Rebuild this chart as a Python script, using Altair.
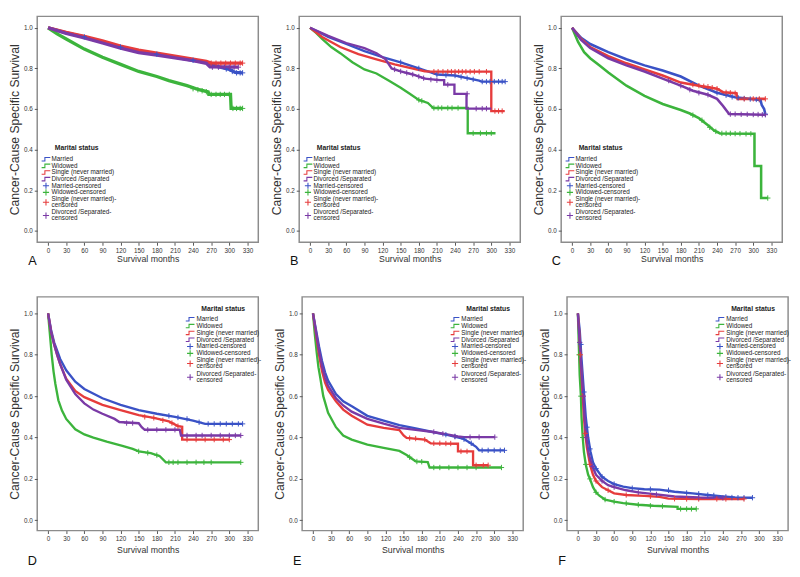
import altair as alt
import pandas as pd

STATUS = ["Married", "Widowed", "Single (never married)", "Divorced /Separated"]
COLORS = ["#3a52c6", "#3cb43c", "#e63c3c", "#7a3aa6"]
LEGEND_LABELS = ["Married", "Widowed", "Single (never married)", "Divorced /Separated",
                 "Married-censored", "Widowed-censored",
                 "Single (never married)-\ncensored", "Divorced /Separated-\ncensored"]
X_TICKS = [0, 30, 60, 90, 120, 150, 180, 210, 240, 270, 300, 330]
Y_TICKS = [0.0, 0.2, 0.4, 0.6, 0.8, 1.0]
X_TITLE = "Survival months"
Y_TITLE = "Cancer-Cause Specific Survival"

# ---------------- Panel A ----------------
A_CURVES = {
    "Married": [(0, 1.0), (30, 0.975), (60, 0.955), (90, 0.93), (120, 0.905), (150, 0.885), (180, 0.87),
                (210, 0.855), (240, 0.84), (262, 0.83), (280, 0.81), (300, 0.795), (310, 0.78), (322, 0.778)],
    "Widowed": [(0, 1.0), (15, 0.97), (30, 0.945), (60, 0.895), (90, 0.855), (120, 0.82), (150, 0.785),
                (180, 0.76), (200, 0.74), (230, 0.715), (250, 0.695), (265, 0.685), (266, 0.672),
                (302, 0.672), (303, 0.603), (322, 0.603)],
    "Single (never married)": [(0, 1.0), (30, 0.977), (60, 0.958), (90, 0.935), (120, 0.91), (150, 0.89),
                               (180, 0.875), (210, 0.86), (240, 0.845), (262, 0.835), (270, 0.826), (322, 0.826)],
    "Divorced /Separated": [(0, 1.0), (30, 0.972), (60, 0.95), (90, 0.925), (120, 0.9), (150, 0.878),
                            (180, 0.866), (210, 0.852), (240, 0.838), (262, 0.825), (268, 0.808), (315, 0.806)],
}
A_CENSOR = {
    "Married": [(60, 0.955), (120, 0.905), (180, 0.87), (240, 0.84), (295, 0.797), (305, 0.785),
                (312, 0.778), (318, 0.778), (322, 0.778)],
    "Widowed": [(240, 0.7), (248, 0.695), (255, 0.69), (262, 0.685), (270, 0.672), (278, 0.672),
                (285, 0.672), (292, 0.672), (300, 0.672), (306, 0.603), (312, 0.603), (318, 0.603), (322, 0.603)],
    "Single (never married)": [(270, 0.826), (278, 0.826), (286, 0.826), (294, 0.826), (302, 0.826),
                               (310, 0.826), (318, 0.826), (322, 0.826)],
    "Divorced /Separated": [(272, 0.806), (282, 0.806), (292, 0.806), (300, 0.806), (308, 0.806), (315, 0.806)],
}

# ---------------- Panel B ----------------
B_CURVES = {
    "Married": [(0, 1.0), (30, 0.955), (60, 0.92), (90, 0.885), (120, 0.855), (150, 0.83), (180, 0.8),
                (200, 0.78), (210, 0.77), (240, 0.765), (260, 0.752), (280, 0.74), (284, 0.735), (323, 0.735)],
    "Widowed": [(0, 1.0), (10, 0.975), (20, 0.945), (35, 0.905), (50, 0.875), (70, 0.83), (90, 0.795),
                (110, 0.775), (130, 0.74), (150, 0.705), (165, 0.675), (180, 0.645), (195, 0.63), (204, 0.605),
                (261, 0.605), (261, 0.481), (307, 0.481)],
    "Single (never married)": [(0, 1.0), (20, 0.955), (50, 0.905), (80, 0.87), (110, 0.845), (140, 0.82),
                               (165, 0.803), (190, 0.786), (200, 0.784), (300, 0.784), (300, 0.59), (322, 0.59)],
    "Divorced /Separated": [(0, 1.0), (30, 0.96), (60, 0.925), (90, 0.9), (110, 0.875), (125, 0.845),
                            (135, 0.8), (150, 0.785), (170, 0.77), (190, 0.75), (215, 0.742), (222, 0.742),
                            (222, 0.72), (239, 0.72), (239, 0.675), (259, 0.675), (259, 0.602), (300, 0.602)],
}
B_CENSOR = {
    "Married": [(150, 0.83), (180, 0.8), (210, 0.77), (225, 0.767), (240, 0.765), (250, 0.758), (260, 0.752),
                (270, 0.746), (285, 0.735), (292, 0.735), (298, 0.735), (305, 0.735), (312, 0.735),
                (318, 0.735), (323, 0.735)],
    "Widowed": [(180, 0.645), (185, 0.64), (205, 0.605), (212, 0.605), (218, 0.605), (228, 0.605),
                (235, 0.605), (245, 0.605), (270, 0.481), (282, 0.481), (292, 0.481), (300, 0.481)],
    "Single (never married)": [(205, 0.784), (212, 0.784), (220, 0.784), (228, 0.784), (234, 0.784),
                               (240, 0.784), (246, 0.784), (252, 0.784), (258, 0.784), (265, 0.784),
                               (272, 0.784), (280, 0.784), (292, 0.784), (306, 0.59), (312, 0.59), (318, 0.59)],
    "Divorced /Separated": [(140, 0.795), (150, 0.785), (160, 0.778), (170, 0.77), (180, 0.76), (188, 0.752),
                            (200, 0.745), (210, 0.742), (228, 0.72), (260, 0.675), (275, 0.602),
                            (285, 0.602), (292, 0.602)],
}

# ---------------- Panel C ----------------
C_CURVES = {
    "Married": [(0, 1.0), (15, 0.95), (30, 0.92), (60, 0.88), (90, 0.845), (120, 0.815), (150, 0.79),
                (180, 0.76), (210, 0.715), (240, 0.68), (270, 0.658), (300, 0.648), (312, 0.645),
                (314, 0.62), (318, 0.6), (320, 0.575)],
    "Widowed": [(0, 1.0), (10, 0.93), (20, 0.88), (30, 0.85), (45, 0.815), (60, 0.78), (90, 0.715),
                (120, 0.665), (150, 0.625), (180, 0.595), (195, 0.578), (210, 0.555), (225, 0.52),
                (235, 0.495), (245, 0.48), (302, 0.478), (302, 0.32), (313, 0.32), (313, 0.162), (324, 0.162)],
    "Single (never married)": [(0, 1.0), (15, 0.945), (30, 0.905), (60, 0.86), (90, 0.825), (120, 0.795),
                               (150, 0.765), (180, 0.73), (210, 0.715), (240, 0.7), (250, 0.683),
                               (272, 0.678), (274, 0.65), (320, 0.65)],
    "Divorced /Separated": [(0, 1.0), (15, 0.94), (30, 0.9), (60, 0.85), (90, 0.815), (120, 0.785),
                            (150, 0.75), (180, 0.715), (200, 0.69), (225, 0.67), (240, 0.65), (250, 0.615),
                            (260, 0.575), (320, 0.572)],
}
C_CENSOR = {
    "Married": [(240, 0.68), (255, 0.668), (265, 0.66), (275, 0.655), (285, 0.652), (295, 0.649),
                (305, 0.647), (310, 0.646), (320, 0.575)],
    "Widowed": [(200, 0.57), (215, 0.545), (228, 0.51), (238, 0.49), (248, 0.48), (255, 0.48), (262, 0.48),
                (270, 0.479), (278, 0.479), (288, 0.478), (296, 0.478), (324, 0.162)],
    "Single (never married)": [(200, 0.72), (210, 0.715), (218, 0.712), (225, 0.71), (232, 0.705),
                               (240, 0.7), (255, 0.682), (262, 0.68), (270, 0.678), (285, 0.65),
                               (300, 0.65), (310, 0.65), (320, 0.65)],
    "Divorced /Separated": [(160, 0.74), (180, 0.715), (195, 0.695), (210, 0.68), (225, 0.67), (262, 0.575),
                            (270, 0.575), (280, 0.574), (290, 0.574), (300, 0.573), (308, 0.573),
                            (315, 0.572), (320, 0.572)],
}

# ---------------- Panel D ----------------
D_CURVES = {
    "Married": [(0, 1.0), (5, 0.92), (10, 0.86), (15, 0.82), (20, 0.78), (30, 0.725), (45, 0.67),
                (60, 0.635), (90, 0.59), (120, 0.558), (150, 0.532), (180, 0.515), (210, 0.5),
                (240, 0.482), (260, 0.466), (322, 0.466)],
    "Widowed": [(0, 1.0), (3, 0.9), (6, 0.8), (9, 0.72), (12, 0.66), (17, 0.58), (23, 0.53), (30, 0.49),
                (45, 0.44), (60, 0.415), (75, 0.4), (97, 0.38), (123, 0.36), (140, 0.345), (150, 0.333),
                (170, 0.325), (185, 0.31), (195, 0.28), (319, 0.28)],
    "Single (never married)": [(0, 1.0), (5, 0.91), (10, 0.85), (15, 0.8), (20, 0.755), (30, 0.685),
                               (45, 0.625), (60, 0.595), (90, 0.558), (120, 0.533), (150, 0.508),
                               (175, 0.495), (200, 0.478), (215, 0.455), (222, 0.452), (222, 0.39), (300, 0.39)],
    "Divorced /Separated": [(0, 1.0), (5, 0.91), (10, 0.85), (15, 0.8), (20, 0.755), (30, 0.68), (45, 0.61),
                            (60, 0.565), (75, 0.535), (90, 0.515), (110, 0.49), (118, 0.475), (150, 0.469),
                            (155, 0.45), (160, 0.4375), (218, 0.4375), (220, 0.41), (319, 0.41)],
}
D_CENSOR = {
    "Married": [(200, 0.505), (215, 0.497), (230, 0.49), (250, 0.474), (265, 0.466), (275, 0.466),
                (285, 0.466), (295, 0.466), (305, 0.466), (315, 0.466), (322, 0.466)],
    "Widowed": [(150, 0.333), (165, 0.326), (180, 0.315), (200, 0.28), (207, 0.28), (215, 0.28), (230, 0.28),
                (245, 0.28), (258, 0.28), (270, 0.28), (319, 0.28)],
    "Single (never married)": [(160, 0.5), (175, 0.495), (190, 0.483), (205, 0.47), (215, 0.455), (230, 0.39),
                               (245, 0.39), (260, 0.39), (275, 0.39), (290, 0.39), (300, 0.39)],
    "Divorced /Separated": [(130, 0.47), (140, 0.47), (165, 0.4375), (180, 0.4375), (195, 0.4375),
                            (210, 0.4375), (230, 0.41), (245, 0.41), (255, 0.41), (270, 0.41), (285, 0.41),
                            (300, 0.41), (310, 0.41), (319, 0.41)],
}

# ---------------- Panel E ----------------
E_CURVES = {
    "Married": [(0, 1.0), (5, 0.92), (10, 0.84), (15, 0.77), (20, 0.715), (25, 0.675), (38, 0.61),
                (50, 0.575), (65, 0.55), (90, 0.505), (117, 0.482), (143, 0.46), (170, 0.444), (196, 0.428),
                (222, 0.413), (248, 0.395), (260, 0.375), (270, 0.355), (275, 0.338), (317, 0.338)],
    "Widowed": [(0, 1.0), (3, 0.9), (6, 0.815), (9, 0.74), (12, 0.69), (17, 0.6), (25, 0.52), (38, 0.45),
                (50, 0.41), (64, 0.39), (90, 0.366), (117, 0.35), (143, 0.335), (155, 0.315), (165, 0.295),
                (170, 0.285), (190, 0.281), (193, 0.255), (312, 0.255)],
    "Single (never married)": [(0, 1.0), (5, 0.9), (10, 0.8), (15, 0.72), (20, 0.665), (25, 0.63),
                               (38, 0.575), (50, 0.535), (64, 0.505), (90, 0.462), (117, 0.447), (143, 0.436),
                               (150, 0.41), (155, 0.398), (185, 0.39), (195, 0.372), (240, 0.37), (240, 0.333),
                               (265, 0.333), (265, 0.266), (290, 0.266)],
    "Divorced /Separated": [(0, 1.0), (5, 0.91), (10, 0.82), (15, 0.745), (20, 0.69), (25, 0.65), (38, 0.59),
                            (50, 0.555), (64, 0.525), (90, 0.49), (117, 0.467), (143, 0.447), (170, 0.437),
                            (196, 0.428), (222, 0.415), (240, 0.405), (250, 0.402), (301, 0.402)],
}
E_CENSOR = {
    "Married": [(220, 0.414), (235, 0.405), (250, 0.392), (262, 0.372), (280, 0.338), (290, 0.338),
                (300, 0.338), (310, 0.338), (317, 0.338)],
    "Widowed": [(160, 0.305), (172, 0.284), (180, 0.283), (200, 0.255), (210, 0.255), (225, 0.255),
                (240, 0.255), (255, 0.255), (270, 0.255), (312, 0.255)],
    "Single (never married)": [(160, 0.397), (170, 0.395), (185, 0.39), (200, 0.372), (210, 0.372),
                               (220, 0.371), (228, 0.371), (245, 0.333), (255, 0.333), (270, 0.266),
                               (282, 0.266), (290, 0.266)],
    "Divorced /Separated": [(200, 0.427), (215, 0.418), (235, 0.405), (260, 0.402), (275, 0.402), (301, 0.402)],
}

# ---------------- Panel F ----------------
F_CURVES = {
    "Married": [(0, 1.0), (3, 0.92), (6, 0.78), (10, 0.62), (13, 0.5), (17, 0.4), (21, 0.33), (25, 0.28),
                (30, 0.25), (40, 0.21), (50, 0.19), (60, 0.175), (75, 0.163), (90, 0.155), (110, 0.15),
                (135, 0.148), (160, 0.138), (190, 0.13), (215, 0.122), (240, 0.115), (260, 0.11), (289, 0.109)],
    "Widowed": [(0, 1.0), (1, 0.9), (2, 0.8), (3, 0.7), (5, 0.6), (6, 0.5), (8, 0.4), (10, 0.33), (13, 0.27),
                (17, 0.22), (20, 0.2), (25, 0.16), (30, 0.135), (35, 0.12), (45, 0.1), (60, 0.09),
                (75, 0.083), (100, 0.075), (125, 0.07), (165, 0.065), (165, 0.055), (196, 0.055)],
    "Single (never married)": [(0, 1.0), (2, 0.92), (4, 0.8), (6, 0.7), (8, 0.6), (10, 0.5), (12, 0.42),
                               (15, 0.35), (20, 0.27), (25, 0.22), (30, 0.19), (40, 0.16), (50, 0.145),
                               (60, 0.13), (80, 0.122), (110, 0.118), (135, 0.113), (150, 0.105),
                               (200, 0.103), (275, 0.103)],
    "Divorced /Separated": [(0, 1.0), (2, 0.9), (4, 0.82), (6, 0.72), (9, 0.6), (11, 0.5), (14, 0.4),
                            (18, 0.32), (24, 0.26), (30, 0.22), (40, 0.19), (50, 0.17), (60, 0.16),
                            (80, 0.145), (100, 0.135), (130, 0.125), (160, 0.115), (200, 0.11), (240, 0.108)],
}
F_CENSOR = {
    "Married": [(5, 0.85), (10, 0.62), (15, 0.45), (20, 0.345), (30, 0.25), (40, 0.21), (60, 0.175),
                (90, 0.155), (120, 0.15), (150, 0.145), (180, 0.132), (200, 0.128), (215, 0.122),
                (225, 0.12), (245, 0.113), (255, 0.11), (265, 0.109), (275, 0.109), (289, 0.109)],
    "Widowed": [(2, 0.8), (5, 0.6), (8, 0.4), (13, 0.27), (20, 0.2), (30, 0.135), (45, 0.1), (60, 0.09),
                (80, 0.082), (100, 0.075), (120, 0.07), (140, 0.068), (170, 0.055), (180, 0.055),
                (188, 0.055), (196, 0.055)],
    "Single (never married)": [(4, 0.8), (8, 0.6), (12, 0.42), (20, 0.27), (30, 0.19), (50, 0.145),
                               (80, 0.122), (120, 0.116), (160, 0.104), (180, 0.103), (200, 0.103),
                               (230, 0.103), (245, 0.103), (275, 0.103)],
    "Divorced /Separated": [(3, 0.86), (9, 0.6), (14, 0.4), (24, 0.26), (40, 0.19), (60, 0.16), (100, 0.135),
                            (130, 0.125), (200, 0.11), (240, 0.108)],
}

PANELS = [
    ("A", A_CURVES, A_CENSOR, 0),
    ("B", B_CURVES, B_CENSOR, 0),
    ("C", C_CURVES, C_CENSOR, 0),
    ("D", D_CURVES, D_CENSOR, 1),
    ("E", E_CURVES, E_CENSOR, 1),
    ("F", F_CURVES, F_CENSOR, 1),
]

W = 227
H_TOP = 232
H_BOT = 240
FONT = "Liberation Sans"
PLUS = "M-1,0H1M0,-1V1"
STEP = "M-1,0.4H-0.25V-0.4H1"
LINE_W = {"A": 3.4, "B": 2.4, "C": 2.6, "D": 2.4, "E": 2.4, "F": 2.4}


def to_df(d):
    rows = []
    for st in STATUS:
        for i, (t, s) in enumerate(d[st]):
            rows.append({"status": st, "t": t, "s": s, "i": i})
    return pd.DataFrame(rows)


def legend_layers(sx, lx, tx, ty, ey0, step):
    one = pd.DataFrame({"k": [0]})
    layers = [alt.Chart(one).mark_text(text="Marital status", font=FONT, fontSize=7, fontWeight="bold",
                                       align="left", baseline="middle", color="#222")
              .encode(x=alt.value(tx), y=alt.value(ty))]
    y = ey0
    for j, lab in enumerate(LEGEND_LABELS):
        col = COLORS[j % 4]
        two = "\n" in lab
        sy = y + (step / 2 if two else 0)
        shape = STEP if j < 4 else PLUS
        size = 80 if j < 4 else 40
        layers.append(alt.Chart(one).mark_point(shape=shape, size=size, filled=False, stroke=col,
                                                strokeWidth=1.1, opacity=1)
                      .encode(x=alt.value(sx), y=alt.value(sy)))
        layers.append(alt.Chart(one).mark_text(text=lab, font=FONT, fontSize=6.5, align="left",
                                               baseline="middle", color="#222", lineBreak="\n",
                                               lineHeight=step - 0.6)
                      .encode(x=alt.value(lx), y=alt.value(y)))
        y += step * (2 if two else 1)
    return layers


def panel(letter, curves, censor, row):
    h = H_TOP if row == 0 else H_BOT
    ydom = [-0.056, 1.056] if row == 0 else [-0.05, 1.08]
    xs = alt.Scale(domain=[-18, 348], nice=False, zero=False)
    ys = alt.Scale(domain=ydom, nice=False, zero=False)
    xax = alt.Axis(values=X_TICKS, title=X_TITLE, titleFontSize=9, titlePadding=1.5 if row == 0 else 4.5,
                   labelFontSize=6.5, tickSize=3, labelPadding=2, grid=False, domain=False,
                   labelFlush=False, labelOverlap=False, labelBound=False)
    yax = alt.Axis(values=Y_TICKS, format=".1f", title=Y_TITLE, titleFontSize=12.5, titlePadding=2,
                   labelFontSize=6.5, tickSize=3, labelPadding=2, grid=False, domain=False,
                   labelOverlap=False)
    col = alt.Color("status:N", scale=alt.Scale(domain=STATUS, range=COLORS), legend=None)
    lines = alt.Chart(to_df(curves)).mark_line(strokeWidth=LINE_W[letter], interpolate="linear").encode(
        x=alt.X("t:Q", scale=xs, axis=xax),
        y=alt.Y("s:Q", scale=ys, axis=yax),
        color=col,
        order=alt.Order("i:Q"),
    )
    marks = alt.Chart(to_df(censor)).mark_point(shape=PLUS, size=30, filled=False, strokeWidth=1,
                                                 opacity=1).encode(
        x=alt.X("t:Q", scale=xs, axis=xax),
        y=alt.Y("s:Q", scale=ys, axis=yax),
        color=col,
    )
    if row == 0:
        leg = legend_layers(9, 14.7, 18, 135, 146.7, 6.8)
        lety = h + 23
    else:
        leg = legend_layers(157, 163.5, 168.5, 13, 23, 7)
        lety = h + 35
    letter_mark = alt.Chart(pd.DataFrame({"k": [0]})).mark_text(
        text=letter, font=FONT, fontSize=13, align="center", baseline="alphabetic", color="#111"
    ).encode(x=alt.value(-5), y=alt.value(lety))
    return alt.layer(lines, marks, *leg, letter_mark).properties(width=W, height=h)


charts = [panel(*p) for p in PANELS]
top = alt.hconcat(*charts[:3], spacing=11)
bottom = alt.hconcat(*charts[3:], spacing=11)
chart = alt.vconcat(top, bottom, spacing=28).properties(
    padding={"left": 0, "top": 0, "right": 0, "bottom": 0},
    autosize=alt.AutoSizeParams(type="pad"),
).configure(font=FONT).configure_view(
    stroke="#8c8c8c", strokeWidth=1.5
).configure_axis(
    tickColor="#555", labelColor="#333", titleColor="#333", titleFontWeight="normal",
    labelOverlap=False
)

chart.save("out.html", embed_options={"renderer": "svg", "actions": False})
